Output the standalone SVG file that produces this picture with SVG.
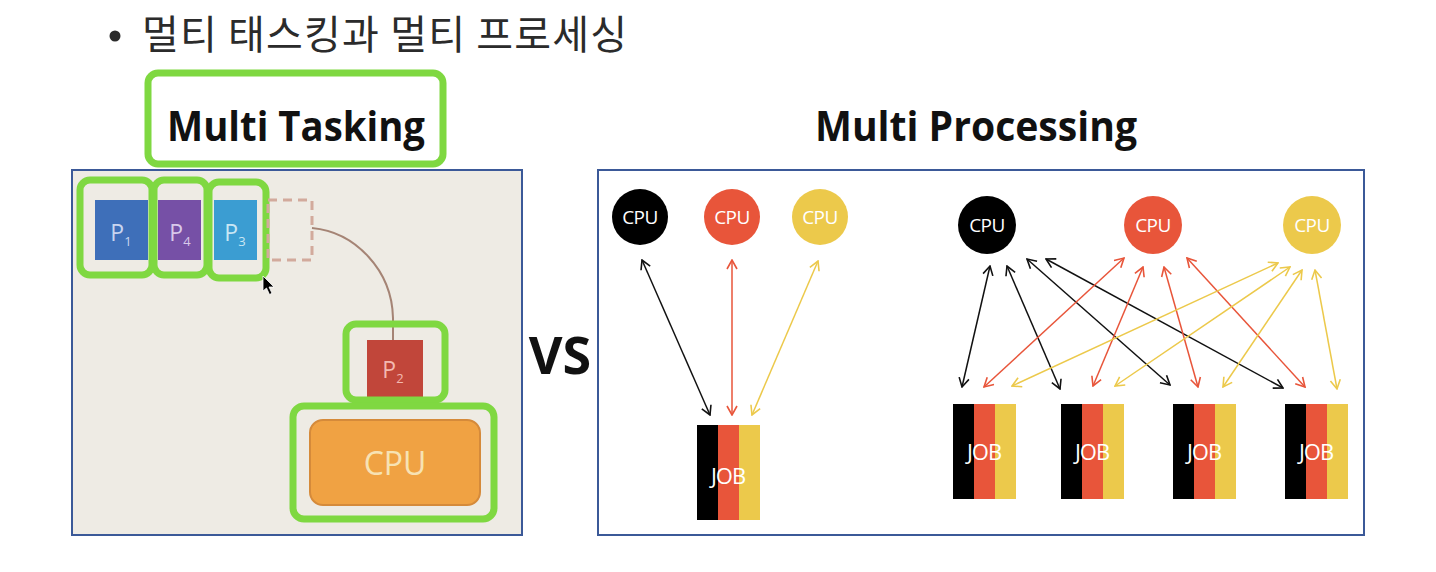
<svg xmlns="http://www.w3.org/2000/svg" width="1436" height="572" viewBox="0 0 1436 572">
<style>
.hl{fill:none;stroke:#7fd841;stroke-width:7;}
.panel{stroke:#3b5998;stroke-width:2;}
.cpu{font-family:"Open Sans","Liberation Sans",sans-serif;font-size:19px;fill:#fff;text-anchor:middle;letter-spacing:-0.5px;}
.job{font-family:"Open Sans","Liberation Sans",sans-serif;font-size:22px;fill:#fff;text-anchor:middle;letter-spacing:-1px;}
.pl{font-family:"Open Sans","Liberation Sans",sans-serif;font-size:23px;text-anchor:middle;}
.ttl{font-family:"Open Sans","Liberation Sans",sans-serif;font-weight:bold;fill:#111;}
.ck{stroke:#111;stroke-width:1.5;fill:none;marker-start:url(#ak);marker-end:url(#ak);}
.cr{stroke:#e8553a;stroke-width:1.5;fill:none;marker-start:url(#ar);marker-end:url(#ar);}
.cy{stroke:#ecc94b;stroke-width:1.5;fill:none;marker-start:url(#ay);marker-end:url(#ay);}
</style>
<defs>
<marker id="ak" viewBox="0 0 12 12" refX="11" refY="6" markerWidth="12" markerHeight="12" markerUnits="userSpaceOnUse" orient="auto-start-reverse"><path d="M2,1 L11,6 L2,11" fill="none" stroke="#111" stroke-width="1.6"/></marker>
<marker id="ar" viewBox="0 0 12 12" refX="11" refY="6" markerWidth="12" markerHeight="12" markerUnits="userSpaceOnUse" orient="auto-start-reverse"><path d="M2,1 L11,6 L2,11" fill="none" stroke="#e8553a" stroke-width="1.6"/></marker>
<marker id="ay" viewBox="0 0 12 12" refX="11" refY="6" markerWidth="12" markerHeight="12" markerUnits="userSpaceOnUse" orient="auto-start-reverse"><path d="M2,1 L11,6 L2,11" fill="none" stroke="#ecc94b" stroke-width="1.6"/></marker>
<g id="jobshape">
<rect x="0" y="0" width="21" height="95" fill="#000"/>
<rect x="21" y="0" width="21" height="95" fill="#e8553a"/>
<rect x="42" y="0" width="21" height="95" fill="#ecc94b"/>
</g>
</defs>
<rect width="1436" height="572" fill="#fff"/>

<g id="title">
<circle cx="115" cy="36" r="5.5" fill="#2b2b2b"/>
<text x="142" y="49" font-family="'Noto Sans CJK KR','Noto Sans',sans-serif" font-size="40" fill="#2b2b2b" textLength="485" lengthAdjust="spacing">멀티 태스킹과 멀티 프로세싱</text>
</g>

<!-- Left panel -->
<g id="left-panel">
<rect x="72" y="170" width="450" height="365" fill="#eeebe4" class="panel"/>
</g>
<g id="mt-title">
<rect x="148" y="73" width="295" height="91" rx="10" fill="#fff" class="hl"/>
<text x="167" y="141" class="ttl" font-size="42" textLength="258" lengthAdjust="spacingAndGlyphs">Multi Tasking</text>
</g>

<g id="p1">
<rect x="95" y="200" width="53" height="60" fill="#3e6fb9"/>
<text x="121" y="241" class="pl" fill="#c9d5ef">P<tspan font-size="13" dy="5">1</tspan></text>
<rect x="80" y="180" width="72" height="95" rx="10" class="hl"/>
</g>
<g id="p4">
<rect x="158" y="200" width="43" height="60" fill="#7650a6"/>
<text x="180" y="241" class="pl" fill="#d8c9ea">P<tspan font-size="13" dy="5">4</tspan></text>
<rect x="154" y="180" width="53" height="95" rx="10" class="hl"/>
</g>
<g id="p3">
<rect x="214" y="200" width="43" height="60" fill="#3b9dd2"/>
<text x="235" y="241" class="pl" fill="#c9e6f4">P<tspan font-size="13" dy="5">3</tspan></text>
<rect x="209" y="182" width="57" height="96" rx="10" class="hl"/>
</g>
<g id="slot">
<rect x="268" y="200" width="44" height="60" fill="none" stroke="#d2aa9c" stroke-width="3" stroke-dasharray="9,6"/>
</g>
<g id="connectors-left">
<path d="M312,228 C355,232 392,270 393,318 L393,340" fill="none" stroke="#a58475" stroke-width="2"/>
</g>
<g id="p2">
<rect x="367" y="340" width="56" height="58" fill="#c1463a"/>
<text x="393" y="378" class="pl" fill="#f3b9b0">P<tspan font-size="13" dy="5">2</tspan></text>
<rect x="346" y="324" width="99" height="76" rx="10" class="hl"/>
</g>
<g id="cpu-main">
<rect x="310" y="420" width="170" height="85" rx="13" fill="#f0a243" stroke="#d58a3a" stroke-width="2"/>
<text x="395" y="475" font-family="'Open Sans','Liberation Sans',sans-serif" font-size="32" fill="#f7e2b4" text-anchor="middle">CPU</text>
<rect x="293" y="406" width="201" height="113" rx="11" class="hl"/>
</g>
<g id="cursor">
<polygon points="263,276 263,291 266.5,288 269.5,294.5 272,293.3 269,287 274,287" fill="#000" stroke="#fff" stroke-width="0.8"/>
</g>

<g id="vs">
<text x="560" y="374" class="ttl" font-size="52" text-anchor="middle">VS</text>
</g>

<!-- Right panel -->
<g id="mp-title">
<text x="815" y="141" class="ttl" font-size="42" textLength="322" lengthAdjust="spacingAndGlyphs">Multi Processing</text>
</g>
<g id="right-panel">
<rect x="598" y="170" width="766" height="365" fill="#fff" class="panel"/>
</g>

<g id="connectors">
<line x1="642" y1="260" x2="710" y2="415" class="ck"/>
<line x1="732" y1="260" x2="732" y2="415" class="cr"/>
<line x1="818" y1="261" x2="752" y2="415" class="cy"/>

<line x1="990" y1="266" x2="962" y2="387" class="ck"/>
<line x1="1007" y1="266" x2="1060" y2="389" class="ck"/>
<line x1="1027" y1="259" x2="1170" y2="385" class="ck"/>
<line x1="1046" y1="259" x2="1283" y2="388" class="ck"/>
<line x1="1124" y1="258" x2="984" y2="387" class="cr"/>
<line x1="1143" y1="267" x2="1093" y2="386" class="cr"/>
<line x1="1164" y1="267" x2="1198" y2="387" class="cr"/>
<line x1="1187" y1="258" x2="1305" y2="387" class="cr"/>
<line x1="1278" y1="263" x2="1012" y2="386" class="cy"/>
<line x1="1290" y1="267" x2="1115" y2="386" class="cy"/>
<line x1="1302" y1="270" x2="1223" y2="387" class="cy"/>
<line x1="1315" y1="270" x2="1337" y2="389" class="cy"/>
</g>

<g id="cpu-a1"><circle cx="640" cy="217" r="28" fill="#000"/><text x="640" y="224" class="cpu">CPU</text></g>
<g id="cpu-a2"><circle cx="732" cy="217" r="28" fill="#e8553a"/><text x="732" y="224" class="cpu">CPU</text></g>
<g id="cpu-a3"><circle cx="820" cy="217" r="28" fill="#ecc94b"/><text x="820" y="224" class="cpu">CPU</text></g>
<g id="job-a"><use href="#jobshape" x="697" y="425"/><text x="728" y="484" class="job">JOB</text></g>

<g id="cpu-b1"><circle cx="987" cy="225" r="29" fill="#000"/><text x="987" y="232" class="cpu">CPU</text></g>
<g id="cpu-b2"><circle cx="1153" cy="225" r="29" fill="#e8553a"/><text x="1153" y="232" class="cpu">CPU</text></g>
<g id="cpu-b3"><circle cx="1312" cy="225" r="29" fill="#ecc94b"/><text x="1312" y="232" class="cpu">CPU</text></g>
<g id="job-b1"><use href="#jobshape" x="953" y="404"/><text x="984" y="460" class="job">JOB</text></g>
<g id="job-b2"><use href="#jobshape" x="1061" y="404"/><text x="1092" y="460" class="job">JOB</text></g>
<g id="job-b3"><use href="#jobshape" x="1173" y="404"/><text x="1204" y="460" class="job">JOB</text></g>
<g id="job-b4"><use href="#jobshape" x="1285" y="404"/><text x="1316" y="460" class="job">JOB</text></g>
</svg>
